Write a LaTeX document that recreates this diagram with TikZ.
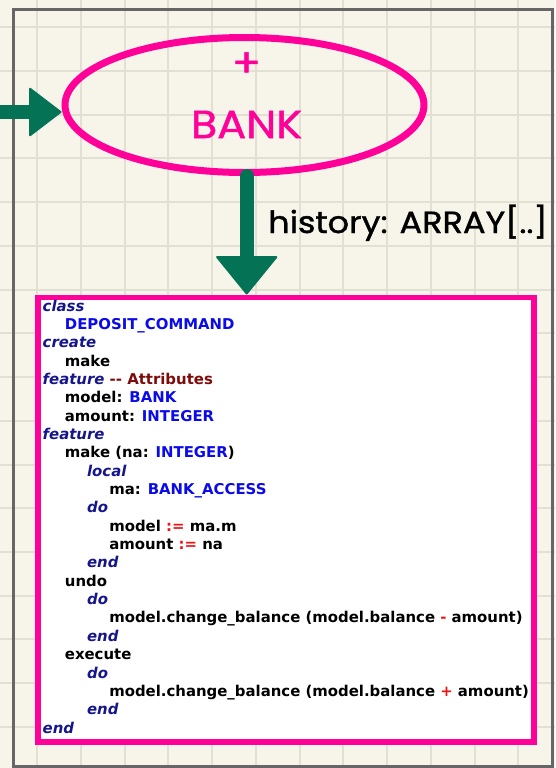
\documentclass[tikz,border=0pt]{standalone}
\usepackage{fontspec}
\usetikzlibrary{shapes.geometric,arrows.meta}
\newfontfamily\codefont{DejaVu Sans}
\newfontfamily\handfont{Poppins}[FakeBold=1.3, FakeStretch=1.1]
\definecolor{paper}{RGB}{247,245,233}
\definecolor{gridc}{RGB}{225,224,211}
\definecolor{framec}{RGB}{102,102,102}
\definecolor{pinkc}{RGB}{255,0,153}
\definecolor{greenc}{RGB}{4,115,85}
\definecolor{kwc}{RGB}{22,22,140}
\definecolor{cnc}{RGB}{10,10,235}
\definecolor{cmc}{RGB}{128,10,10}
\definecolor{opc}{RGB}{240,20,20}
\newcommand\kw[1]{{\color{kwc}\itshape #1}}
\newcommand\cn[1]{{\color{cnc}#1}}
\newcommand\cm[1]{{\color{cmc}#1}}
\newcommand\op[1]{{\color{opc}#1}}
\tikzset{
  codeline/.style={inner sep=0pt, anchor=base west, text=black,
    font=\codefont\bfseries\fontsize{14.9}{18}\selectfont},
  bankshape/.style={ellipse, draw=pinkc, line width=7pt, minimum width=359pt, minimum height=135pt, inner sep=0pt},
  banktext/.style={inner sep=0pt, text=pinkc, font=\handfont\fontsize{39}{39}\selectfont},
  codebox/.style={draw=pinkc, fill=white, line width=5.5pt, minimum width=496pt, minimum height=444.5pt, inner sep=0pt},
  greenarrow/.style={draw=greenc, line width=14pt},
  labeltext/.style={inner sep=0pt, anchor=base west, text=black, font=\handfont\fontsize{30.5}{30.5}\selectfont},
}
\begin{document}
\begin{tikzpicture}[x=1pt,y=-1pt]
\useasboundingbox (0,0) rectangle (555,768);
\fill[paper] (0,0) rectangle (555,768);
\begin{scope}
\clip (0,0) rectangle (555,768);
\foreach \k in {-1,...,13} {
  \draw[gridc, line width=2pt] (37.3+43.72*\k,0) -- (37.3+43.72*\k,768);
}
\foreach \k in {-1,...,18} {
  \draw[gridc, line width=2pt] (0,27.3+43.72*\k) -- (555,27.3+43.72*\k);
}
\end{scope}
\draw[framec, line width=3pt] (13.3,9.3) rectangle (552,766);
% bank
\node[bankshape] (bank) at (244.5,105) {};
\node[banktext] (bankplus) at (246.5,64.5) {+};
\node[banktext, anchor=base] (bankname) at (246.5,138) {BANK};
% code box
\node[codebox, anchor=north west] (code) at (35,294.5) {};
\foreach \ind/\txt [count=\i] in {
  0/{\kw{class}},
  1/{\cn{DEPOSIT\_COMMAND}},
  0/{\kw{create}},
  1/{make},
  0/{\kw{feature} \cm{-{}- Attributes}},
  1/{model: \cn{BANK}},
  1/{amount: \cn{INTEGER}},
  0/{\kw{feature}},
  1/{make (na: \cn{INTEGER})},
  2/{\kw{local}},
  3/{ma: \cn{BANK\_ACCESS}},
  2/{\kw{do}},
  3/{model \op{:=} ma.m},
  3/{amount \op{:=} na},
  2/{\kw{end}},
  1/{undo},
  2/{\kw{do}},
  3/{model.change\_balance (model.balance \op{-} amount)},
  2/{\kw{end}},
  1/{execute},
  2/{\kw{do}},
  3/{model.change\_balance (model.balance \op{+} amount)},
  2/{\kw{end}},
  0/{\kw{end}}} {
  \node[codeline] (l\i) at (42.5+22.2*\ind, 311+18.35*\i-18.35) {\txt};
}
% arrows
\coordinate (inleft) at (0,112);
\draw[greenarrow, -{Triangle[length=33pt,width=50pt,line width=2pt,round]}] (inleft) -- (inleft -| bank.west);
\draw[greenarrow, line cap=round, -{Triangle[length=39pt,width=63pt,line width=2pt,round]}] ([xshift=2.2pt]bank.south) -- ([xshift=2.2pt]bank.south |- code.north);
\node[labeltext] (hist) at (268,233) {history: ARRAY[..]};
\end{tikzpicture}
\end{document}
